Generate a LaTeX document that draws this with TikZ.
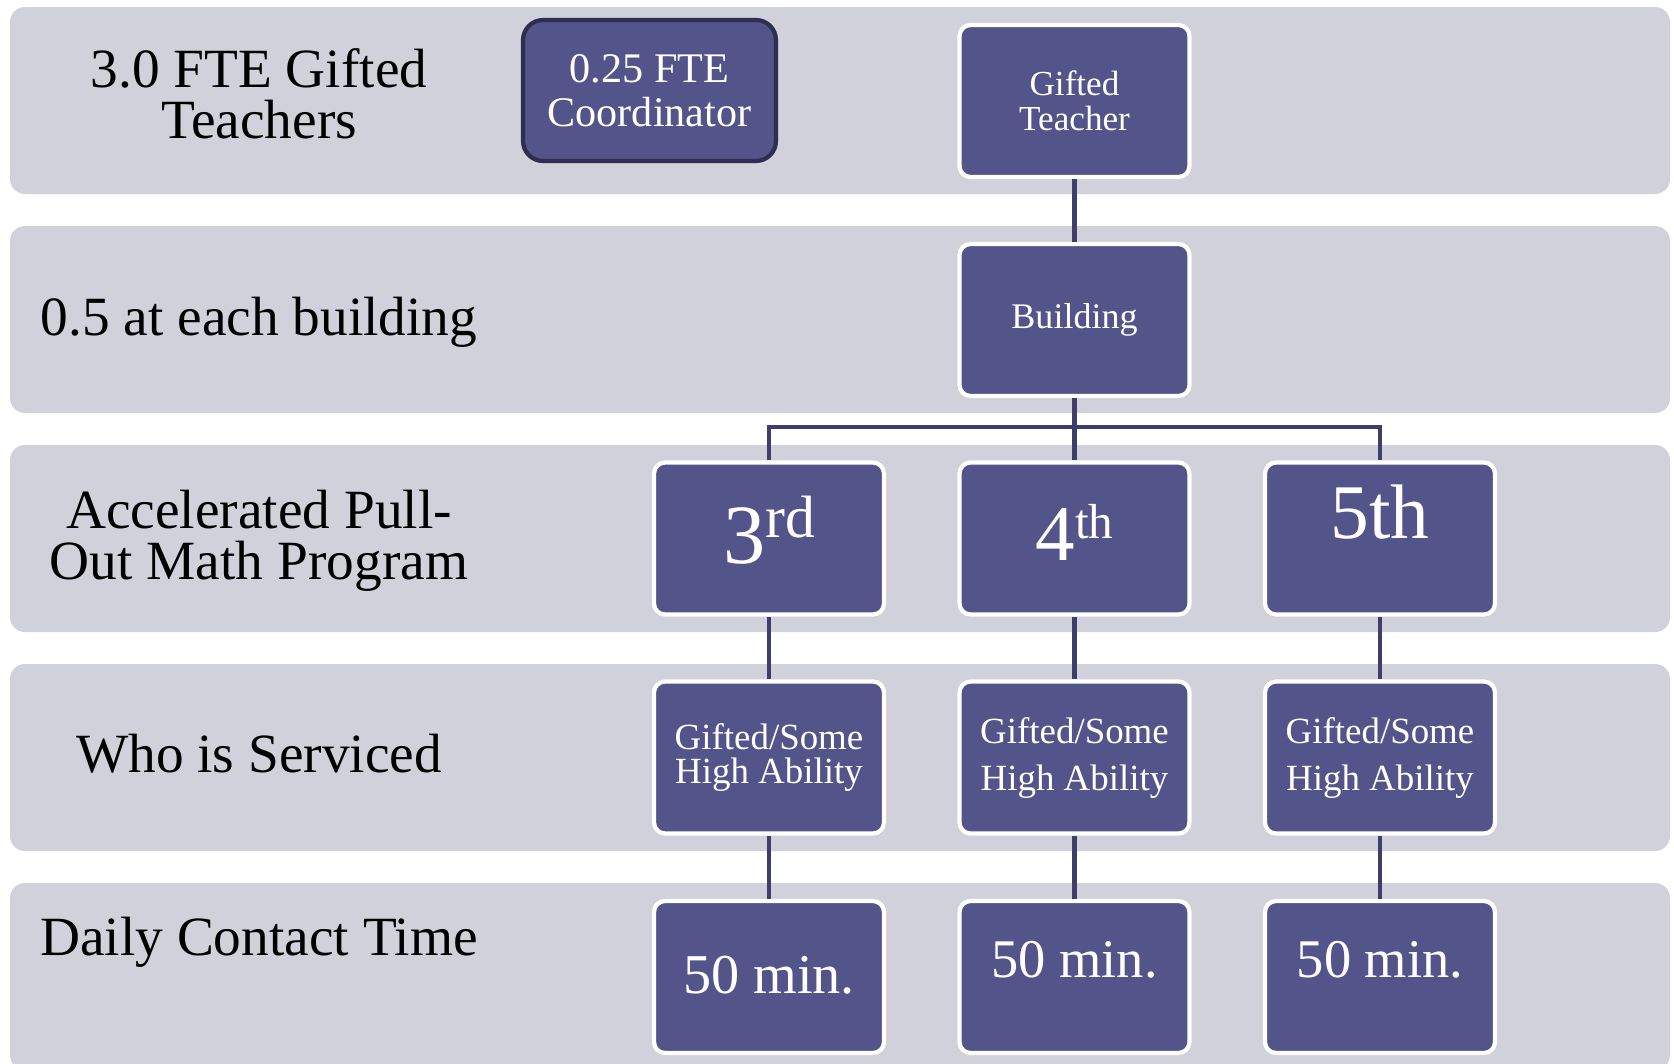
\documentclass[tikz,border=0pt]{standalone}
\usepackage{fontspec}
\setmainfont{Liberation Serif}
\usepackage{xcolor}
\definecolor{bandgray}{RGB}{209,209,219}
\definecolor{boxpurple}{RGB}{83,84,137}
\definecolor{linkpurple}{RGB}{62,62,107}
\definecolor{coordedge}{RGB}{46,46,80}
\newcommand{\fsz}[2]{\fontsize{#1}{#2}\selectfont}
\newcommand{\liftstack}[2]{\raisebox{#1}{\begin{tabular}{@{}c@{}}#2\end{tabular}}}

\begin{document}
\begin{tikzpicture}[x=0.02cm,y=-0.02cm,
    band/.style={fill=bandgray,rounded corners=0.3cm},
    row label/.style={align=center,text=black,font=\fsz{31.5}{29}},
    main node/.style={rectangle,rounded corners=0.22cm,fill=boxpurple,draw=white,
      line width=2.4pt,minimum width=4.6cm,minimum height=3.04cm,inner sep=0pt,
      text=white,align=center},
    link/.style={draw=linkpurple,line width=2.3pt}]
  \useasboundingbox (0,0) rectangle (1674,1063);

  % Bands
  \foreach \i in {0,...,4}
    \fill[band] (10,{7+219*\i}) rectangle (1670,{194+219*\i});

  % Row labels
  \node[row label] (teachers) at (259,93.5) {3.0 FTE Gifted\\Teachers};
  \node[row label,anchor=base] (perbuilding) at (259,335) {0.5 at each building};
  \node[row label] (program) at (259,540.5) {Accelerated Pull-\\Out Math Program};
  \node[row label,anchor=base] (serviced) at (259,772) {Who is Serviced};
  \node[row label,anchor=base] (contact) at (259,955) {Daily Contact Time};

  % Nodes
  \node[main node,draw=coordedge,rounded corners=0.4cm,minimum width=5.06cm,minimum height=2.82cm,
        font=\fsz{24}{25}] (coord) at (649.5,90.5) {0.25 FTE\\Coordinator};
  \node[main node,font=\fsz{20}{20}] (gt) at (1074.5,101) {Gifted\\Teacher};
  \node[main node,font=\fsz{20.5}{20.5}] (bld) at (1074.5,320) {Building};

  \node[main node,text height=29pt,text depth=0pt] (g3) at (769,538.5)
    {\fsz{48}{48}3\raisebox{14.8pt}{\fsz{34}{34}rd}};
  \node[main node,text height=24.5pt,text depth=0pt] (g4) at (1074.5,538.5)
    {\fsz{45}{45}4\raisebox{12.5pt}{\fsz{28}{28}th}};
  \node[main node,text height=0pt,text depth=0pt,font=\fsz{44}{44}] (g5) at (1380,538.5) {5th};

  \node[main node,font=\fsz{21}{19.5}] (who3) at (769,757.5) {Gifted/Some\\High Ability};
  \node[main node,font=\fsz{21}{26.7}] (who4) at (1074.5,757.5)
    {\liftstack{12.6pt}{Gifted/Some\\High Ability}};
  \node[main node,font=\fsz{21}{26.7}] (who5) at (1380,757.5)
    {\liftstack{12.6pt}{Gifted/Some\\High Ability}};

  \node[main node,text height=18.2pt,text depth=0pt,font=\fsz{32}{32}] (min3) at (769,977) {50 min.};
  \node[main node,text height=0pt,text depth=0pt,font=\fsz{31}{31}] (min4) at (1074.5,977) {50 min.};
  \node[main node,text height=0pt,text depth=0pt,font=\fsz{31}{31}] (min5) at (1380,977) {50 min.};

  % Edges
  \draw[link] (gt) -- (bld);
  \draw[link] (bld) -- (g4);
  \draw[link] (g3.north) -- ++(0,-33) -| (g5.north);
  \foreach \c in {3,4,5} {
    \draw[link] (g\c) -- (who\c);
    \draw[link] (who\c) -- (min\c);
  }
\end{tikzpicture}
\end{document}
